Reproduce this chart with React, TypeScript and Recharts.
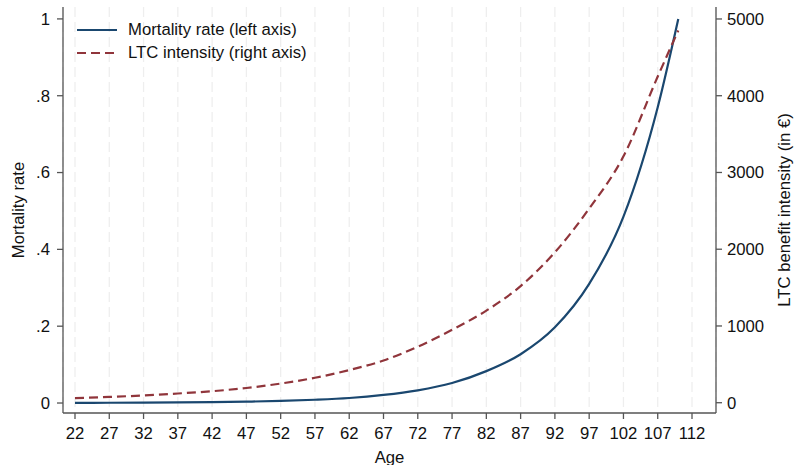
import {
  CartesianGrid,
  Legend,
  Line,
  LineChart,
  XAxis,
  YAxis,
} from "recharts";

const ages = [22, 27, 32, 37, 42, 47, 52, 57, 62, 67, 72, 77, 82, 87, 92, 97, 102, 107, 110];
const mortalityRate = [
  0.0005, 0.0007, 0.001, 0.0015, 0.0023, 0.0035, 0.0055, 0.0085, 0.013, 0.021,
  0.033, 0.052, 0.083, 0.127, 0.197, 0.31, 0.485, 0.77, 1.0,
];
const ltcIntensity = [
  60, 75, 95, 120, 150, 192, 250, 325, 425, 550, 730, 950, 1200, 1520, 1960,
  2530, 3210, 4250, 4850,
];
const ageTicks = [22, 27, 32, 37, 42, 47, 52, 57, 62, 67, 72, 77, 82, 87, 92, 97, 102, 107, 112];
const mortalityTicks = [0, 0.2, 0.4, 0.6, 0.8, 1];
const ltcTicks = [0, 1000, 2000, 3000, 4000, 5000];

const NAVY = "#1a476f";
const MAROON = "#90353b";
const AXIS = "#555555";
const FONT = "'Liberation Sans', Arial, sans-serif";
const FS = 16.7;

const data = ages.map((age, i) => ({
  age,
  mortality: mortalityRate[i],
  ltc: ltcIntensity[i],
}));

const fmtRate = (v: number) =>
  v === 0 ? "0" : v === 1 ? "1" : "." + Math.round(v * 10);

const legendItems = [
  { label: "Mortality rate (left axis)", color: NAVY, dash: undefined },
  { label: "LTC intensity (right axis)", color: MAROON, dash: "9 5" },
];

function LegendBox() {
  return (
    <div style={{ fontFamily: FONT, fontSize: FS, color: "#111" }}>
      {legendItems.map((it) => (
        <div
          key={it.label}
          style={{ display: "flex", alignItems: "center", height: 23 }}
        >
          <svg width={40} height={6} style={{ marginRight: 11 }}>
            <line
              x1={0}
              y1={3}
              x2={40}
              y2={3}
              stroke={it.color}
              strokeWidth={2.2}
              strokeDasharray={it.dash}
            />
          </svg>
          <span>{it.label}</span>
        </div>
      ))}
    </div>
  );
}

const leftLabel = (props: any) => {
  const vb = props.viewBox;
  const cy = vb.y + vb.height / 2;
  return (
    <text
      x={18}
      y={cy}
      transform={`rotate(-90 18 ${cy})`}
      textAnchor="middle"
      dominantBaseline="central"
      fontFamily={FONT}
      fontSize={FS}
      fill="#111"
    >
      Mortality rate
    </text>
  );
};

const rightLabel = (props: any) => {
  const vb = props.viewBox;
  const cy = vb.y + vb.height / 2;
  return (
    <text
      x={784}
      y={cy}
      transform={`rotate(-90 784 ${cy})`}
      textAnchor="middle"
      dominantBaseline="central"
      fontFamily={FONT}
      fontSize={FS}
      fill="#111"
    >
      LTC benefit intensity (in €)
    </text>
  );
};

const bottomLabel = (props: any) => {
  const vb = props.viewBox;
  return (
    <text
      x={vb.x + vb.width / 2}
      y={457}
      textAnchor="middle"
      dominantBaseline="central"
      fontFamily={FONT}
      fontSize={FS}
      fill="#111"
    >
      Age
    </text>
  );
};

const tickStyle = { fontFamily: FONT, fontSize: FS, fill: "#111" };

export default function App() {
  return (
    <div style={{ position: "absolute", left: 0, top: 0, background: "#fff" }}>
      <LineChart
        width={796}
        height={465}
        data={data}
        margin={{ top: 7, right: 0, bottom: 0, left: 0 }}
      >
        <CartesianGrid
          horizontal={false}
          vertical
          stroke="#eeeeee"
          strokeWidth={1.3}
          strokeDasharray="10 5"
        />
        <XAxis
          dataKey="age"
          type="number"
          domain={[20.25, 115.5]}
          ticks={ageTicks}
          interval={0}
          allowDataOverflow
          height={52}
          tick={tickStyle}
          tickSize={6}
          tickMargin={8}
          stroke={AXIS}
          strokeWidth={1.3}
          label={bottomLabel}
        />
        <YAxis
          yAxisId="left"
          orientation="left"
          width={63}
          domain={[-0.026, 1.031]}
          ticks={mortalityTicks}
          interval={0}
          allowDataOverflow
          tickFormatter={fmtRate}
          tick={tickStyle}
          tickSize={6}
          tickMargin={7}
          stroke={AXIS}
          strokeWidth={1.3}
          label={leftLabel}
        />
        <YAxis
          yAxisId="right"
          orientation="right"
          width={80}
          domain={[-134, 5156]}
          ticks={ltcTicks}
          interval={0}
          allowDataOverflow
          tick={tickStyle}
          tickSize={6}
          tickMargin={5}
          stroke={AXIS}
          strokeWidth={1.3}
          label={rightLabel}
        />
        <Legend
          layout="vertical"
          align="center"
          verticalAlign="middle"
          wrapperStyle={{ position: "absolute", left: 77, top: 18, width: "auto" }}
          content={() => <LegendBox />}
        />
        <Line
          yAxisId="left"
          type="monotone"
          dataKey="mortality"
          stroke={NAVY}
          strokeWidth={2.2}
          dot={false}
          activeDot={false}
          isAnimationActive={false}
        />
        <Line
          yAxisId="right"
          type="monotone"
          dataKey="ltc"
          stroke={MAROON}
          strokeWidth={2.2}
          strokeDasharray="9 5"
          dot={false}
          activeDot={false}
          isAnimationActive={false}
        />
      </LineChart>
    </div>
  );
}
